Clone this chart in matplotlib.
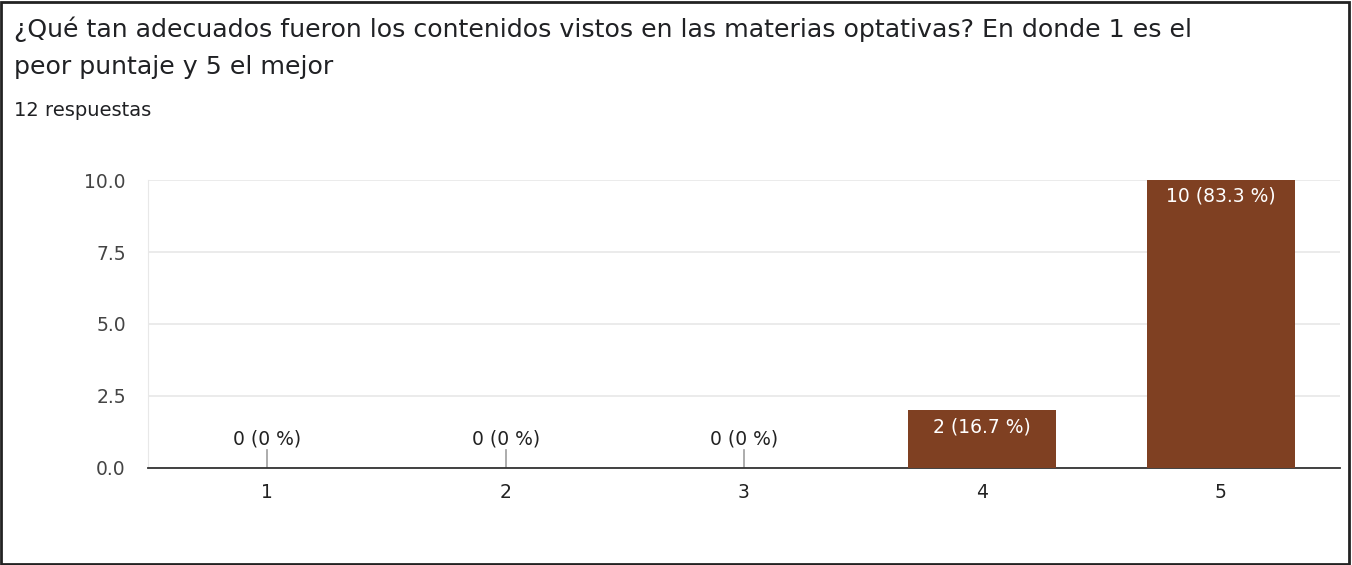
import matplotlib.pyplot as plt
from matplotlib.patches import Rectangle

# Data
categories = ["1", "2", "3", "4", "5"]
counts = [0, 0, 0, 2, 10]
percents = ["0 %", "0 %", "0 %", "16.7 %", "83.3 %"]
y_ticks = [0.0, 2.5, 5.0, 7.5, 10.0]

plt.rcParams['font.family'] = ['DejaVu Sans']

fig = plt.figure(figsize=(13.52, 5.65), dpi=100)
ax = fig.add_axes([0.1095, 0.1717, 0.8815, 0.5097])

x = list(range(1, len(categories) + 1))
bar_color = '#7f4022'
ax.bar(x, counts, width=0.62, color=bar_color, zorder=3)

for xi, c, p in zip(x, counts, percents):
    label = f"{c} ({p})"
    if c > 0:
        ax.annotate(label, (xi, c), xytext=(0, -5), textcoords='offset points',
                    ha='center', va='top', color='white', fontsize=13.5, zorder=4)
    else:
        # small stem for empty categories
        ax.plot([xi, xi], [0, 0.62], color='#9e9e9e', lw=1.2, zorder=2)
        ax.annotate(label, (xi, 0.62), xytext=(0, 1), textcoords='offset points',
                    ha='center', va='bottom', color='#222222', fontsize=13.5)

ax.set_xlim(0.5, 5.5)
ax.set_ylim(0, 10)
ax.set_xticks(x)
ax.set_xticklabels(categories)
ax.set_yticks(y_ticks)
ax.set_yticklabels([f"{v:.1f}" for v in y_ticks])
ax.tick_params(axis='both', length=0, labelsize=13.5, colors='#444444')
ax.tick_params(axis='x', pad=11, labelcolor='#222222')
ax.tick_params(axis='y', pad=16)
ax.yaxis.grid(True, color='#e8e8e8', lw=1.2, zorder=0)
ax.set_axisbelow(True)
for side in ['top', 'right']:
    ax.spines[side].set_visible(False)
ax.spines['left'].set_color('#e8e8e8')
ax.spines['bottom'].set_color('#333333')
ax.spines['bottom'].set_linewidth(1.3)

fig.text(0.0104, 0.935, "¿Qué tan adecuados fueron los contenidos vistos en las materias optativas? En donde 1 es el",
         fontsize=18.2, color='#202124', ha='left', va='baseline')
fig.text(0.0104, 0.869, "peor puntaje y 5 el mejor",
         fontsize=18.2, color='#202124', ha='left', va='baseline')
fig.text(0.0104, 0.794, "12 respuestas", fontsize=14, color='#202124', ha='left', va='baseline')

fig.patches.append(Rectangle((0.001, 0.002), 0.997, 0.995, transform=fig.transFigure,
                             fill=False, edgecolor='#222222', lw=2))

fig.savefig("out.png", dpi=100)
